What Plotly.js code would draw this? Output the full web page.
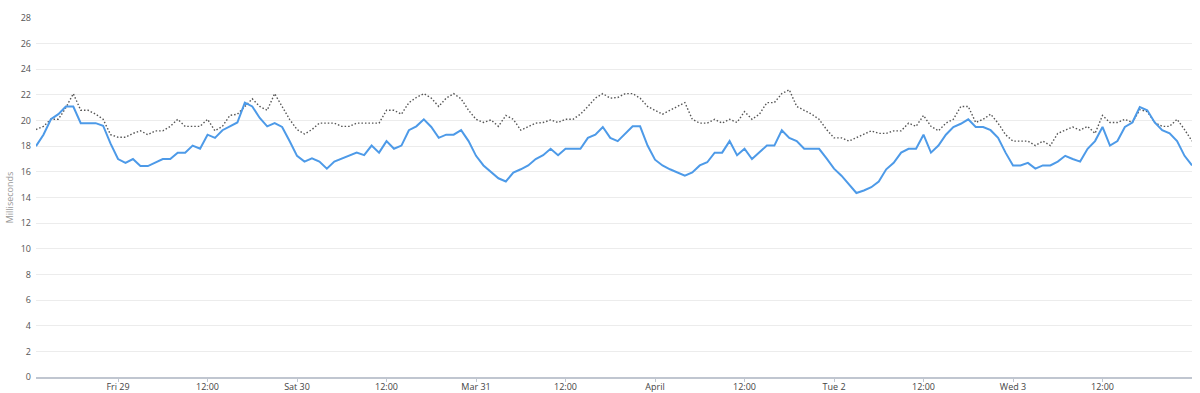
<!DOCTYPE html>
<html>
<head>
<meta charset="utf-8">
<script src="https://cdn.plot.ly/plotly-3.0.1.min.js"></script>
<style>
html,body{margin:0;padding:0;background:#fff;}
#chart{width:1200px;height:393px;}
</style>
</head>
<body>
<div id="chart"></div>
<script>
// Hourly samples starting Mar 28 13:00
const startTime = '2024-03-28T13:00:00';
const blueSeries = [
18.0,18.9,20.1,20.5,21.1,21.1,19.8,19.8,19.8,19.6,
18.2,17.0,16.7,17.0,16.45,16.45,16.75,17.0,17.0,17.5,
17.5,18.05,17.8,18.9,18.65,19.25,19.55,19.85,21.4,21.1,
20.2,19.55,19.8,19.5,18.4,17.25,16.8,17.05,16.8,16.25,
16.8,17.05,17.3,17.5,17.3,18.05,17.5,18.4,17.8,18.05,
19.25,19.55,20.1,19.5,18.65,18.9,18.9,19.25,18.4,17.25,
16.5,16.0,15.5,15.25,15.95,16.2,16.5,17.0,17.3,17.8,
17.3,17.8,17.8,17.8,18.65,18.9,19.5,18.65,18.4,19.0,
19.55,19.55,18.05,16.95,16.5,16.2,15.95,15.7,15.95,16.5,
16.75,17.5,17.5,18.4,17.3,17.8,17.0,17.5,18.05,18.05,
19.25,18.65,18.4,17.8,17.8,17.8,17.05,16.25,15.7,15.0,
14.35,14.55,14.8,15.25,16.2,16.7,17.5,17.8,17.8,18.9,
17.5,18.05,18.9,19.5,19.75,20.1,19.5,19.5,19.25,18.65,
17.5,16.5,16.5,16.7,16.25,16.5,16.5,16.8,17.25,17.0,
16.8,17.8,18.4,19.5,18.05,18.4,19.5,19.85,21.05,20.8,
19.85,19.25,19.0,18.4,17.25,16.5
];
const dottedSeries = [
19.3,19.55,20.1,20.1,21.0,22.1,20.8,20.8,20.5,20.1,
18.9,18.7,18.7,19.0,19.2,18.9,19.2,19.2,19.55,20.1,
19.55,19.55,19.55,20.1,19.2,19.55,20.4,20.5,21.1,21.7,
21.1,20.8,22.1,21.1,20.1,19.3,18.95,19.3,19.8,19.8,
19.8,19.55,19.55,19.8,19.8,19.8,19.8,20.8,20.8,20.5,
21.4,21.8,22.1,21.75,21.1,21.75,22.1,21.7,20.8,20.1,
19.85,20.05,19.55,20.4,20.1,19.25,19.55,19.8,19.85,20.05,
19.85,20.1,20.1,20.5,21.1,21.75,22.1,21.75,21.8,22.1,
22.1,21.75,21.1,20.8,20.5,20.8,21.1,21.4,20.1,19.8,
19.8,20.1,19.8,20.1,19.85,20.7,20.1,20.5,21.4,21.4,
22.1,22.4,21.1,20.8,20.5,20.1,19.3,18.65,18.65,18.4,
18.65,18.9,19.2,19.0,19.0,19.2,19.2,19.8,19.55,20.4,
19.55,19.2,19.8,20.1,21.1,21.1,19.85,20.1,20.5,19.8,
18.9,18.4,18.4,18.4,18.05,18.4,18.05,19.0,19.25,19.5,
19.25,19.55,19.0,20.4,19.85,19.85,20.1,19.85,20.85,20.7,
19.85,19.55,19.55,20.1,19.3,18.4
];
const tickDates = ['2024-03-29 00:00','2024-03-29 12:00','2024-03-30 00:00','2024-03-30 12:00',
  '2024-03-31 00:00','2024-03-31 12:00','2024-04-01 00:00','2024-04-01 12:00',
  '2024-04-02 00:00','2024-04-02 12:00','2024-04-03 00:00','2024-04-03 12:00'];
const tickLabels = ['Fri 29','12:00','Sat 30','12:00','Mar 31','12:00','April','12:00','Tue 2','12:00','Wed 3','12:00'];
const yTickVals = [0,2,4,6,8,10,12,14,16,18,20,22,24,26,28];
const xRange = ['2024-03-28 13:00','2024-04-04 00:00'];

function pad(n){return (n<10?'0':'')+n;}
const t0 = new Date(startTime);
const times = blueSeries.map((_, i) => {
  const d = new Date(t0.getTime() + i*3600000);
  return d.getFullYear()+'-'+pad(d.getMonth()+1)+'-'+pad(d.getDate())+' '+pad(d.getHours())+':00';
});

const traces = [
  {x: times, y: dottedSeries, type:'scatter', mode:'lines',
   line:{color:'#555555', width:1.4, dash:'1.5px,2px'}, hoverinfo:'skip'},
  {x: times, y: blueSeries, type:'scatter', mode:'lines',
   line:{color:'#4d9ae8', width:2}, hoverinfo:'skip'}
];

const layout = {
  width:1200, height:393,
  margin:{l:36, r:8, t:18, b:16},
  paper_bgcolor:'#fff', plot_bgcolor:'#fff',
  showlegend:false,
  font:{family:'"Open Sans", "Noto Sans", sans-serif', size:9, color:'#666'},
  xaxis:{
    type:'date', range:xRange,
    tickvals: tickDates, ticktext: tickLabels,
    showgrid:false, zeroline:false,
    showline:true, linecolor:'#c0c6d0', linewidth:2,
    ticks:'', ticklen:0,
    tickfont:{size:9, color:'#444'}
  },
  xaxis2:{
    type:'date', range:xRange, overlaying:'x', matches:'x', side:'bottom',
    tickvals: tickDates, showticklabels:false,
    showgrid:false, zeroline:false, showline:false,
    ticks:'outside', ticklen:4, tickcolor:'#c0c6d0', tickwidth:1
  },
  yaxis:{
    range:[0,28], tickvals:yTickVals,
    showgrid:true, gridcolor:'#ececec', gridwidth:1,
    zeroline:false, showline:false,
    tickfont:{size:9, color:'#555'},
    ticklabelstandoff:4,
    title:{text:'Milliseconds', font:{size:9, color:'#999'}, standoff:5}
  }
};

traces.push({x:[xRange[0]], y:[null], xaxis:'x2', type:'scatter', mode:'lines', hoverinfo:'skip', showlegend:false});

Plotly.newPlot('chart', traces, layout, {displayModeBar:false, staticPlot:true});
</script>
</body>
</html>
